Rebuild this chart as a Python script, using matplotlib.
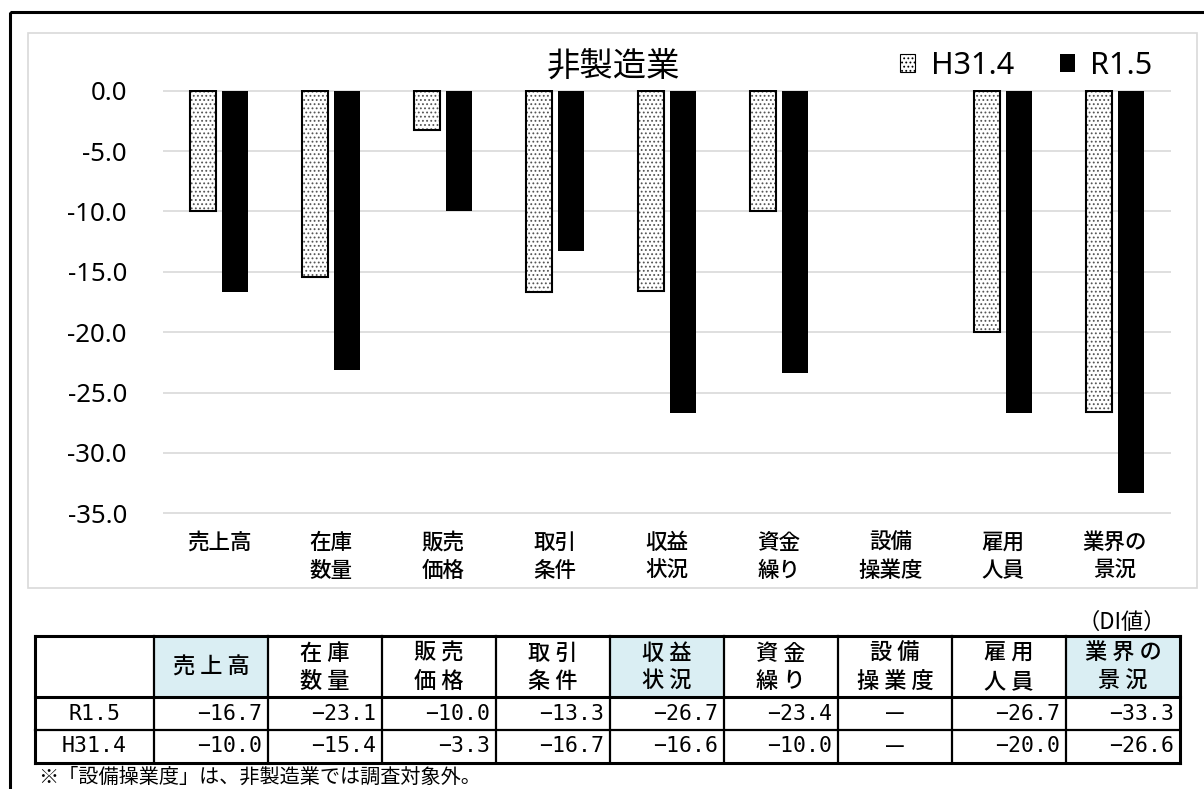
import numpy as np
import matplotlib.pyplot as plt
from matplotlib.patches import Rectangle, Patch

plt.rcParams['font.family'] = ['Noto Sans CJK JP', 'DejaVu Sans']
plt.rcParams['axes.unicode_minus'] = False
plt.rcParams['hatch.linewidth'] = 0.8

# -------- data
cats = ['売上高', '在庫\n数量', '販売\n価格', '取引\n条件', '収益\n状況',
        '資金\n繰り', '設備\n操業度', '雇用\n人員', '業界の\n景況']
h31_4 = [-10.0, -15.4, -3.3, -16.7, -16.6, -10.0, np.nan, -20.0, -26.6]
r1_5 = [-16.7, -23.1, -10.0, -13.3, -26.7, -23.4, np.nan, -26.7, -33.3]
series = ['H31.4', 'R1.5']
yticks = [0, -5, -10, -15, -20, -25, -30, -35]
shaded = ['売上高', '収益\n状況', '業界の\n景況']
title = '非製造業'
note = '※「設備操業度」は、非製造業では調査対象外。'

W, H = 1204, 789
fig = plt.figure(figsize=(W / 100, H / 100), dpi=100)

# overlay in pixel coords for frames + table
ov = fig.add_axes([0, 0, 1, 1])
ov.set_xlim(0, W)
ov.set_ylim(H, 0)
ov.axis('off')
ov.set_zorder(0)
ov.add_patch(Rectangle((10, 12), 1300, 900, fill=False, ec='black', lw=2.2))
ov.add_patch(Rectangle((28, 33), 1169, 555, fill=False, ec='#d9d9d9', lw=1.2))

# -------- bar chart
ax = fig.add_axes([163 / W, 1 - 514 / H, (1171 - 163) / W, (514 - 90) / H])
ax.set_zorder(1)
ax.patch.set_alpha(0)
x = np.arange(len(cats))
bw = 0.23
ax.bar(x - 0.145, h31_4, bw, color='white', edgecolor='#555555', hatch='....', lw=0)
ax.bar(x - 0.145, h31_4, bw, fill=False, edgecolor='black', lw=1.5)
ax.bar(x + 0.145, r1_5, bw, color='black')
ax.set_xlim(-0.5, len(cats) - 0.5)
ax.set_ylim(-35.05, 0.05)
ax.set_yticks(yticks)
ax.set_yticklabels([f'{v:.1f}' for v in yticks], family='Noto Sans', fontsize=18.5)
ax.set_xticks(x)
ax.set_xticklabels(cats, fontsize=15.5, linespacing=1.35, va='top', fontweight='medium')
ax.tick_params(axis='y', length=0, pad=26)
ax.tick_params(axis='x', length=0, pad=13)
ax.grid(axis='y', color='#d9d9d9', lw=1.2)
ax.set_axisbelow(True)
for s in ax.spines.values():
    s.set_visible(False)

ov.text(613, 66, title, fontsize=24, ha='center', va='center')
handles = [Patch(facecolor='white', edgecolor='black', hatch='....', lw=0.8),
           Patch(facecolor='black')]
fig.legend(handles, series, loc='center left', bbox_to_anchor=(900, 66),
           bbox_transform=ov.transData, ncol=2, frameon=False,
           prop={'family': 'Noto Sans', 'size': 22}, handlelength=0.5,
           handleheight=0.5, handletextpad=0.5, columnspacing=1.5,
           borderpad=0, borderaxespad=0)

# -------- table
edges = [35] + [154 + 114 * i for i in range(len(cats) + 1)]
rows_y = [636, 697, 730, 763]
for i, c in enumerate(cats):
    if c in shaded:
        ov.add_patch(Rectangle((edges[i + 1], rows_y[0]), 114, rows_y[1] - rows_y[0],
                               fc='#daeef3', ec='none'))
    spaced = '\n'.join(' '.join(line) for line in c.split('\n'))
    ov.text((edges[i + 1] + edges[i + 2]) / 2, (rows_y[0] + rows_y[1]) / 2 + 1, spaced,
            fontsize=16, ha='center', va='center', linespacing=1.3, fontweight='medium')
for j, y in enumerate(rows_y):
    ov.plot([edges[0], edges[-1]], [y, y], color='black',
            lw=2.2 if j in (0, 1, 3) else 1.6, solid_capstyle='projecting')
for i, e in enumerate(edges):
    ov.plot([e, e], [rows_y[0], rows_y[-1]], color='black',
            lw=2.2 if i in (0, len(edges) - 1) else 1.6, solid_capstyle='projecting')

for r, (name, vals) in enumerate([('R1.5', r1_5), ('H31.4', h31_4)]):
    yc = (rows_y[r + 1] + rows_y[r + 2]) / 2
    ov.text((edges[0] + edges[1]) / 2, yc, name, family='DejaVu Sans Mono',
            fontsize=15.5, ha='center', va='center')
    for i, v in enumerate(vals):
        if np.isnan(v):
            ov.text((edges[i + 1] + edges[i + 2]) / 2, yc, '—', fontsize=16,
                    ha='center', va='center')
        else:
            ov.text(edges[i + 2] - 6, yc, f'{v:.1f}'.replace('-', '\u2212'),
                    family='DejaVu Sans Mono', fontsize=15.5, ha='right', va='center')

ov.text(1166, 622, '（DI値）', fontsize=16, ha='right', va='center')
ov.text(38, 788, note, fontsize=14.5, ha='left', va='bottom')

plt.savefig('out.png', dpi=100)
